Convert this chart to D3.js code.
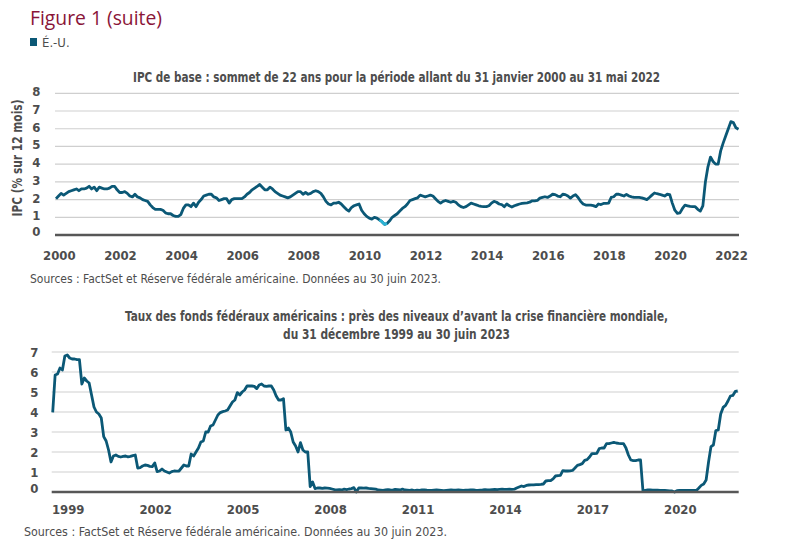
<!DOCTYPE html>
<html><head><meta charset="utf-8">
<script src="https://cdn.jsdelivr.net/npm/d3@7"></script>
<style>
body{margin:0;background:#fff;}
svg{display:block;}
</style></head>
<body>
<svg id="chart" width="800" height="545"></svg>
<script>
// ---------- DATA ----------
// Core CPI (12-month % change), monthly, Jan 2000 .. May 2022
const ipcStart = [2000, 0];
const ipcValues = [
2.05,2.2,2.35,2.25,2.35,2.45,2.5,2.55,2.6,2.5,2.6,2.6,
2.65,2.75,2.6,2.7,2.5,2.7,2.65,2.6,2.6,2.65,2.75,2.75,
2.55,2.4,2.4,2.45,2.35,2.2,2.15,2.3,2.15,2.1,2.0,1.95,
1.9,1.7,1.55,1.45,1.45,1.45,1.4,1.25,1.2,1.2,1.1,1.05,
1.05,1.15,1.5,1.7,1.7,1.6,1.8,1.6,1.85,2.0,2.2,2.25,
2.3,2.3,2.15,2.1,1.95,2.0,2.05,2.05,1.8,2.0,2.05,2.05,
2.05,2.05,2.15,2.3,2.4,2.55,2.65,2.75,2.85,2.7,2.55,2.55,
2.7,2.6,2.45,2.35,2.25,2.2,2.15,2.1,2.15,2.25,2.35,2.45,
2.45,2.3,2.4,2.3,2.35,2.45,2.5,2.45,2.35,2.15,1.9,1.75,
1.7,1.8,1.8,1.85,1.75,1.6,1.45,1.35,1.55,1.65,1.7,1.75,
1.4,1.2,1.05,0.95,0.9,1.0,0.95,0.85,0.75,0.6,0.65,0.8,
1.0,1.1,1.2,1.35,1.5,1.6,1.75,1.95,2.0,2.05,2.1,2.25,
2.2,2.15,2.2,2.25,2.2,2.05,1.9,1.8,1.9,1.95,1.9,1.85,
1.9,1.85,1.7,1.6,1.55,1.6,1.7,1.8,1.75,1.7,1.65,1.62,
1.6,1.6,1.65,1.8,1.9,1.85,1.75,1.72,1.6,1.75,1.65,1.58,
1.65,1.7,1.75,1.78,1.8,1.82,1.85,1.93,1.93,1.95,2.08,2.12,
2.16,2.12,2.2,2.3,2.28,2.2,2.16,2.3,2.28,2.2,2.08,2.2,
2.28,2.12,1.9,1.75,1.69,1.69,1.69,1.66,1.6,1.75,1.72,1.78,
1.78,1.8,2.12,2.16,2.3,2.3,2.25,2.2,2.29,2.2,2.15,2.12,
2.12,2.12,2.1,2.05,2.0,2.12,2.25,2.37,2.33,2.3,2.25,2.2,
2.3,2.28,1.8,1.4,1.22,1.25,1.5,1.68,1.65,1.62,1.6,1.6,
1.45,1.35,1.65,3.0,3.85,4.4,4.15,4.0,4.0,4.75,5.2,5.6,
6.0,6.4,6.35,6.05,5.97
];
const ipcTickYears = [2000,2002,2004,2006,2008,2010,2012,2014,2016,2018,2020,2022];
const ipcYTicks = [0,1,2,3,4,5,6,7,8];

// Effective federal funds rate, monthly, Dec 1999 .. Jun 2023
const fedStart = [1999, 11];
const fedValues = [
3.98,5.85,5.9,6.2,6.1,6.8,6.85,6.7,6.65,6.65,6.62,6.62,
5.4,5.7,5.55,5.45,4.85,4.25,4.0,3.9,3.7,2.77,2.55,2.1,
1.5,1.8,1.85,1.78,1.75,1.78,1.8,1.76,1.78,1.82,1.85,1.2,
1.22,1.3,1.35,1.33,1.28,1.27,1.45,1.02,1.05,1.15,1.05,1.0,
0.95,1.02,1.05,1.04,1.05,1.2,1.35,1.3,1.3,1.9,1.8,2.0,
2.2,2.5,2.55,3.0,3.0,3.3,3.35,3.6,3.85,3.97,4.02,4.05,
4.1,4.3,4.5,4.6,4.97,4.85,5.0,5.1,5.3,5.3,5.3,5.28,
5.17,5.35,5.4,5.3,5.28,5.3,5.3,5.1,4.8,4.6,4.6,4.67,
3.1,3.2,3.0,2.5,2.3,2.0,2.47,2.1,2.0,2.0,0.27,0.5,
0.17,0.2,0.2,0.18,0.2,0.19,0.18,0.15,0.12,0.1,0.12,0.1,
0.14,0.12,0.15,0.17,0.22,0.0,0.2,0.2,0.19,0.2,0.18,0.17,
0.16,0.14,0.1,0.09,0.08,0.1,0.12,0.1,0.09,0.13,0.12,0.1,
0.14,0.1,0.09,0.08,0.1,0.07,0.09,0.08,0.1,0.11,0.09,0.08,
0.08,0.09,0.1,0.09,0.08,0.07,0.08,0.09,0.1,0.09,0.09,0.1,
0.09,0.08,0.09,0.09,0.1,0.11,0.09,0.08,0.09,0.1,0.12,0.11,
0.1,0.12,0.13,0.12,0.13,0.14,0.13,0.13,0.14,0.13,0.14,0.2,
0.25,0.3,0.27,0.33,0.35,0.36,0.36,0.37,0.37,0.38,0.4,0.55,
0.57,0.57,0.66,0.8,0.82,0.83,1.07,1.05,1.05,1.06,1.08,1.2,
1.33,1.37,1.42,1.58,1.62,1.75,1.92,1.92,1.93,2.17,2.2,2.2,
2.42,2.42,2.45,2.48,2.45,2.43,2.42,2.42,2.2,1.85,1.6,1.57,
1.57,1.6,1.6,0.05,0.08,0.1,0.1,0.09,0.09,0.09,0.08,0.08,
0.08,0.07,0.06,0.05,0.0,0.07,0.08,0.08,0.08,0.08,0.08,0.08,
0.08,0.08,0.2,0.33,0.4,0.6,1.5,2.27,2.35,3.07,3.1,3.9,
4.23,4.33,4.55,4.8,4.83,5.03,5.05
];
const fedTickLabels = ["1999","2002","2005","2008","2011","2014","2017","2020"];
const fedYTicks = [0,1,2,3,4,5,6,7];

// ---------- TEXT ----------
const figTitle = "Figure 1 (suite)";
const legendLabel = "É.-U.";
const title1 = "IPC de base : sommet de 22 ans pour la période allant du 31 janvier 2000 au 31 mai 2022";
const yTitle1 = "IPC (% sur 12 mois)";
const title2a = "Taux des fonds fédéraux américains : près des niveaux d\u2019avant la crise financière mondiale,";
const title2b = "du 31 décembre 1999 au 30 juin 2023";
const sourceText = "Sources : FactSet et Réserve fédérale américaine. Données au 30 juin 2023.";

// ---------- STYLE ----------
const lineColor = "#0b5876";
const highlightColor = "#2bb3d4";
const gridColor = "#cfcfcf";
const axisColor = "#575757";
const textColor = "#4d4d4d";
const font = '"Liberation Sans Narrow","DejaVu Sans Condensed","Arial Narrow",sans-serif';

const svg = d3.select("#chart");

svg.append("text").attr("x", 30).attr("y", 25)
  .attr("font-family", '"Open Sans","Noto Sans",sans-serif').attr("font-size", 20)
  .attr("fill", "#8a1538").attr("textLength", 132).attr("lengthAdjust", "spacingAndGlyphs").text(figTitle);
svg.append("rect").attr("x", 30).attr("y", 38).attr("width", 7).attr("height", 8).attr("fill", lineColor);
svg.append("text").attr("x", 42).attr("y", 47).attr("font-family", font).attr("font-size", 13)
  .attr("fill", textColor).text(legendLabel);

// ---------- CHART 1 ----------
const ipcData = ipcValues.map((v, i) => ({i, v}));
const x1 = d3.scaleLinear().domain([0, ipcValues.length - 1]).range([56, 738.5]);
const y1 = d3.scaleLinear().domain([0, 8]).range([235, 93.3]);
const g1 = svg.append("g");

g1.append("text").attr("x", 396.5).attr("y", 82).attr("text-anchor", "middle")
  .attr("font-family", font).attr("font-weight", "bold").attr("font-size", 14)
  .attr("fill", textColor).attr("textLength", 527).attr("lengthAdjust", "spacingAndGlyphs").text(title1);

g1.selectAll(".grid").data(ipcYTicks.filter(d => d > 0)).join("line")
  .attr("x1", 55).attr("x2", 739).attr("y1", d => y1(d)).attr("y2", d => y1(d))
  .attr("stroke", gridColor).attr("stroke-width", 1.2);

g1.selectAll(".ylab").data(ipcYTicks).join("text")
  .attr("x", 40.5).attr("y", d => y1(d) + (d === 0 ? 0.5 : 3)).attr("text-anchor", "end")
  .attr("font-family", font).attr("font-weight", "bold").attr("font-size", 13)
  .attr("fill", textColor).text(d => d);

g1.append("text").attr("transform", "translate(22,158) rotate(-90)").attr("text-anchor", "middle")
  .attr("font-family", font).attr("font-weight", "bold").attr("font-size", 13.5)
  .attr("fill", textColor).attr("textLength", 117).attr("lengthAdjust", "spacingAndGlyphs").text(yTitle1);

const line1 = d3.line().x(d => x1(d.i)).y(d => y1(d.v)).curve(d3.curveLinear);
g1.append("path").datum(ipcData).attr("d", line1).attr("fill", "none")
  .attr("stroke", lineColor).attr("stroke-width", 2.8).attr("stroke-linejoin", "round");
// highlight the trough
const minI = d3.minIndex(ipcValues);
g1.append("path").datum(ipcData.slice(minI - 2, minI + 2)).attr("d", line1).attr("fill", "none")
  .attr("stroke", highlightColor).attr("stroke-width", 2.8).attr("stroke-linejoin", "round");

g1.append("line").attr("x1", 55).attr("x2", 739).attr("y1", y1(0)).attr("y2", y1(0))
  .attr("stroke", axisColor).attr("stroke-width", 2.5);

g1.selectAll(".xlab").data(ipcTickYears).join("text")
  .attr("x", d => x1((d - ipcStart[0]) * 12 + 1.3)).attr("y", 260).attr("text-anchor", "middle")
  .attr("font-family", font).attr("font-weight", "bold").attr("font-size", 13)
  .attr("fill", textColor).text(d => d);

g1.append("text").attr("x", 30).attr("y", 283).attr("font-family", font).attr("font-size", 12.5)
  .attr("fill", textColor).attr("textLength", 411).attr("lengthAdjust", "spacingAndGlyphs").text(sourceText);

// ---------- CHART 2 ----------
const fedData = fedValues.map((v, i) => ({i, v}));
const x2 = d3.scaleLinear().domain([0, fedValues.length - 1]).range([52.7, 737.7]);
const y2 = d3.scaleLinear().domain([0, 7]).range([492, 352]);
const g2 = svg.append("g");

g2.append("text").attr("x", 396.5).attr("y", 321).attr("text-anchor", "middle")
  .attr("font-family", font).attr("font-weight", "bold").attr("font-size", 14)
  .attr("fill", textColor).attr("textLength", 543).attr("lengthAdjust", "spacingAndGlyphs").text(title2a);
g2.append("text").attr("x", 396.5).attr("y", 339).attr("text-anchor", "middle")
  .attr("font-family", font).attr("font-weight", "bold").attr("font-size", 14)
  .attr("fill", textColor).attr("textLength", 227).attr("lengthAdjust", "spacingAndGlyphs").text(title2b);

g2.selectAll(".grid").data(fedYTicks.filter(d => d > 0)).join("line")
  .attr("x1", 51.7).attr("x2", 738.7).attr("y1", d => y2(d)).attr("y2", d => y2(d))
  .attr("stroke", gridColor).attr("stroke-width", 1.2);

g2.selectAll(".ylab").data(fedYTicks).join("text")
  .attr("x", 38.5).attr("y", d => y2(d) + (d === 0 ? 0.5 : 4.5)).attr("text-anchor", "end")
  .attr("font-family", font).attr("font-weight", "bold").attr("font-size", 13)
  .attr("fill", textColor).text(d => d);

const line2 = d3.line().x(d => x2(d.i)).y(d => y2(d.v));
g2.append("path").datum(fedData).attr("d", line2).attr("fill", "none")
  .attr("stroke", lineColor).attr("stroke-width", 2.8).attr("stroke-linejoin", "round");

g2.append("line").attr("x1", 51.7).attr("x2", 738.7).attr("y1", y2(0)).attr("y2", y2(0))
  .attr("stroke", axisColor).attr("stroke-width", 2.5);

g2.selectAll(".xlab").data(fedTickLabels).join("text")
  .attr("x", d => x2((+d - fedStart[0]) * 12 + 6.4)).attr("y", 514).attr("text-anchor", "middle")
  .attr("font-family", font).attr("font-weight", "bold").attr("font-size", 13)
  .attr("fill", textColor).text(d => d);

g2.append("text").attr("x", 24).attr("y", 536).attr("font-family", font).attr("font-size", 12.5)
  .attr("fill", textColor).attr("textLength", 423).attr("lengthAdjust", "spacingAndGlyphs").text(sourceText);
</script>
</body></html>
